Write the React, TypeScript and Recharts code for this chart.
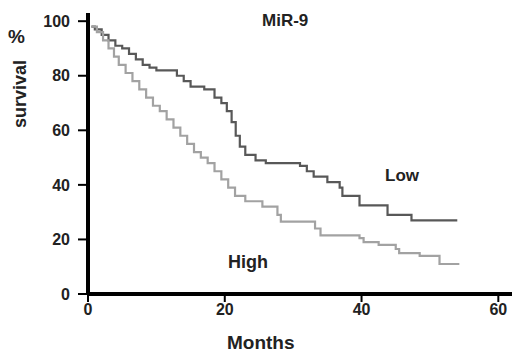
import { LineChart, Line, XAxis, YAxis } from 'recharts';

const lowMonths = [0.5, 1, 2, 3, 4, 5, 6, 7, 8, 9, 10, 13, 14, 15, 17, 18.5, 19.5, 20.3, 21, 21.6, 22.2, 23, 24.5, 26, 31, 32, 33, 35, 36.8, 37.2, 39.7, 43.8, 47.3, 54];
const lowSurvival = [98, 97, 95, 93, 91, 90, 88, 86, 84, 83, 82, 80, 78, 76, 75, 72, 70, 67, 63, 58, 54, 51, 49, 48, 47, 45, 43, 41, 39, 36, 32.5, 29, 27, 27];

const highMonths = [0.5, 1.3, 2.2, 3, 3.8, 4.5, 5.5, 6.5, 7.5, 8.5, 9.5, 10.5, 11.5, 12.5, 13.5, 14.5, 15.5, 16.5, 17.5, 18.5, 19.5, 20.5, 21.5, 23, 25.5, 27.7, 28.2, 33.2, 34, 39.7, 40.3, 42.5, 45, 45.5, 48.5, 51.4, 54.3];
const highSurvival = [98, 96, 93, 90, 87, 84, 81, 78, 75, 72, 69, 67, 64, 61, 58, 55, 52, 50, 48, 45, 42, 39, 36, 34, 32, 29, 26.5, 24, 21.5, 20.5, 19, 18, 16.5, 15, 14, 11, 11];

const xTicks = [0, 20, 40, 60];
const yTicks = [0, 20, 40, 60, 80, 100];

const lowData = lowMonths.map((m, i) => ({ month: m, pct: lowSurvival[i] }));
const highData = highMonths.map((m, i) => ({ month: m, pct: highSurvival[i] }));

const labelFont = 'Liberation Sans, Arial, sans-serif';
const tickStyle = { fill: '#222', fontSize: 16, fontWeight: 700, fontFamily: labelFont };

export default function App() {
  return (
    <div style={{ position: 'absolute', left: 0, top: 0, width: 512, height: 356, background: '#fff', fontFamily: labelFont }}>
      <LineChart width={512} height={356} margin={{ top: 13, right: 0, left: 0, bottom: 0 }}>
        <XAxis
          type="number"
          dataKey="month"
          domain={[0, 62]}
          ticks={xTicks}
          height={62}
          axisLine={{ stroke: '#000', strokeWidth: 4 }}
          tickLine={{ stroke: '#000', strokeWidth: 2 }}
          tickSize={8}
          tickMargin={2}
          tick={tickStyle}
          allowDuplicatedCategory={false}
        />
        <YAxis
          type="number"
          domain={[0, 103]}
          ticks={yTicks}
          width={88}
          axisLine={{ stroke: '#000', strokeWidth: 4 }}
          tickLine={{ stroke: '#000', strokeWidth: 2 }}
          tickSize={10}
          tickMargin={8}
          tick={tickStyle}
        />
        <Line data={lowData} dataKey="pct" type="stepAfter" stroke="#585858" strokeWidth={2.2} dot={false} isAnimationActive={false} />
        <Line data={highData} dataKey="pct" type="stepAfter" stroke="#a2a2a2" strokeWidth={2.2} dot={false} isAnimationActive={false} />
      </LineChart>
      <div style={{ position: 'absolute', left: 0, top: 0, width: 512, height: 356, pointerEvents: 'none', color: '#222', fontWeight: 700 }}>
        <div style={{ position: 'absolute', left: 8, top: 26, fontSize: 19 }}>%</div>
        <div style={{ position: 'absolute', left: 20, top: 94, fontSize: 18, transform: 'translate(-50%, -50%) rotate(-90deg)', whiteSpace: 'nowrap' }}>survival</div>
        <div style={{ position: 'absolute', left: 262, top: 11, fontSize: 17 }}>MiR-9</div>
        <div style={{ position: 'absolute', left: 385, top: 166, fontSize: 17 }}>Low</div>
        <div style={{ position: 'absolute', left: 228, top: 252, fontSize: 18 }}>High</div>
        <div style={{ position: 'absolute', left: 227, top: 332, fontSize: 19 }}>Months</div>
      </div>
    </div>
  );
}
